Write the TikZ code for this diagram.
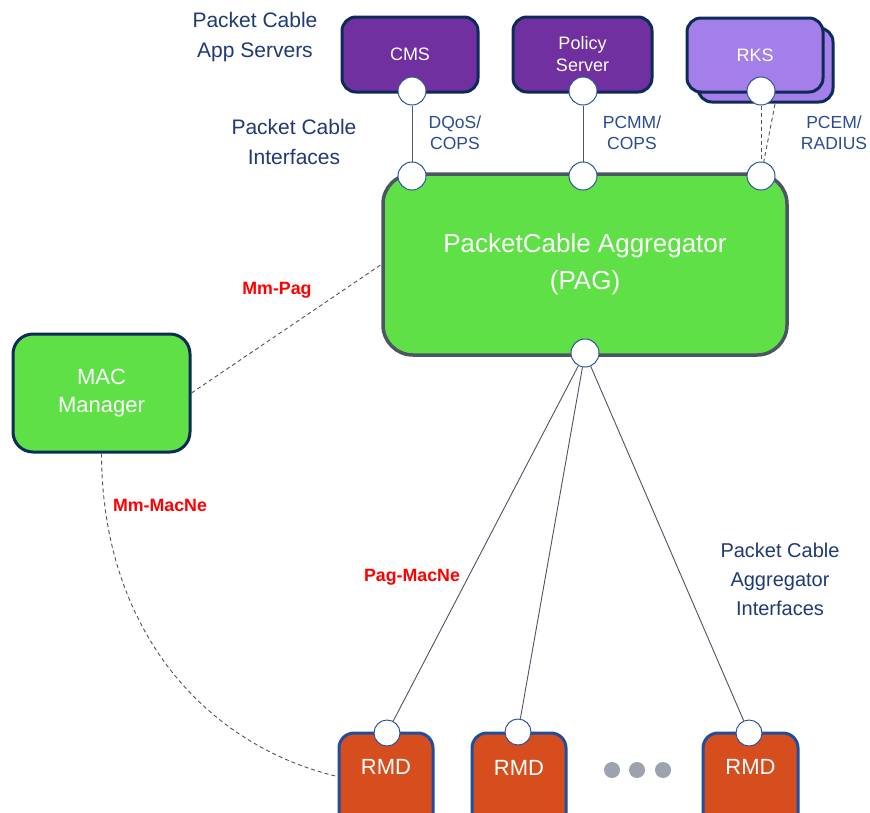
\documentclass[tikz,border=0pt]{standalone}
\usepackage{fontspec}
\setmainfont{Liberation Sans}
\definecolor{cmspurple}{HTML}{7030A0}
\definecolor{rkspurple}{HTML}{A47FE9}
\definecolor{navy}{HTML}{0E2B58}
\definecolor{paggreen}{HTML}{5FE046}
\definecolor{paggray}{HTML}{4B5563}
\definecolor{rmdorange}{HTML}{D64D1E}
\definecolor{rmdblue}{HTML}{1F4EA0}
\definecolor{portblue}{HTML}{2F5597}
\definecolor{lblblue}{HTML}{1F3A75}
\definecolor{ifblue}{HTML}{2B4C93}
\definecolor{dotgray}{HTML}{9CA3AF}
\definecolor{linegray}{HTML}{4B5563}
\begin{document}
\begin{tikzpicture}[x=1pt,y=-1pt,
  box/.style={draw, rounded corners=14pt, line width=3pt, inner sep=0pt, align=center, text=white},
  port/.style={circle, draw=portblue, fill=white, line width=1pt, minimum size=28pt, inner sep=0pt},
  rport/.style={port, minimum size=26pt},
  bluelbl/.style={text=lblblue, align=center, inner sep=0pt, font=\fontsize{21}{30}\selectfont},
  iflbl/.style={text=ifblue, align=center, inner sep=0pt, font=\fontsize{17.5}{21}\selectfont},
  redlbl/.style={text=red, inner sep=0pt, font=\bfseries\fontsize{17.8}{20}\selectfont},
  conn/.style={draw=linegray, line width=0.9pt},
  dconn/.style={draw=linegray, line width=0.9pt, dash pattern=on 4pt off 3pt},
  dotnode/.style={circle, fill=dotgray, minimum size=16pt, inner sep=0pt},
  whitetxt/.style={text=white, inner sep=0pt, align=center}
]
\clip (0,0) rectangle (870,812);
\fill[white] (0,0) rectangle (870,812);

% app servers
\node[box, fill=cmspurple, draw=navy, minimum width=136pt, minimum height=75pt,
      font=\fontsize{18}{22}\selectfont] (cms) at (410,54.5) {CMS};
\node[box, fill=cmspurple, draw=navy, minimum width=139pt, minimum height=75pt,
      font=\fontsize{18}{22}\selectfont] (pol) at (582.5,54.5) {Policy\\Server};
\node[box, fill=rkspurple, draw=navy, minimum width=135pt, minimum height=74pt] (rksback) at (765.5,65) {};
\node[box, fill=rkspurple, draw=navy, minimum width=136pt, minimum height=74pt,
      font=\fontsize{18}{22}\selectfont] (rks) at (755,55) {RKS};

% PAG
\node[box, fill=paggreen, draw=paggray, line width=3.5pt, rounded corners=30pt,
      minimum width=404pt, minimum height=181pt,
      font=\fontsize{26}{37}\selectfont] (pag) at (585,264.5) {PacketCable Aggregator\\(PAG)};

% MAC manager
\node[box, fill=paggreen, draw=navy, rounded corners=20pt, minimum width=177pt, minimum height=118pt,
      font=\fontsize{22}{28}\selectfont] (mac) at (101.5,393) {MAC\\Manager};

% RMDs
\node[box, fill=rmdorange, draw=rmdblue, rounded corners=15pt, minimum width=94pt, minimum height=107pt] (rmd1) at (386,786.5) {};
\node[box, fill=rmdorange, draw=rmdblue, rounded corners=15pt, minimum width=94pt, minimum height=107pt] (rmd2) at (519,786.5) {};
\node[box, fill=rmdorange, draw=rmdblue, rounded corners=15pt, minimum width=95pt, minimum height=107pt] (rmd3) at (750.5,786.5) {};
\node[whitetxt, font=\fontsize{22}{26}\selectfont] (rmd1t) at (386,767) {RMD};
\node[whitetxt, font=\fontsize{22}{26}\selectfont] (rmd2t) at (519,768) {RMD};
\node[whitetxt, font=\fontsize{22}{26}\selectfont] (rmd3t) at (750.5,767) {RMD};

% dots
\node[dotnode] (dot1) at (612,770) {};
\node[dotnode] (dot2) at (637,770) {};
\node[dotnode] (dot3) at (663,770) {};

% ports
\node[port] (cmsP) at (412,91) {};
\node[port] (polP) at (583,91) {};
\node[port] (rksP) at (761,91) {};
\node[port] (pagP1) at (412,176) {};
\node[port] (pagP2) at (583,176) {};
\node[port] (pagP3) at (761,176) {};
\node[port] (pagP4) at (585,353) {};
\node[rport] (rmdP1) at (387,733) {};
\node[rport] (rmdP2) at (518,732) {};
\node[rport] (rmdP3) at (749,733) {};
\coordinate (rksB) at (775,104);

% connectors
\draw[conn] (cmsP) -- (pagP1);
\draw[conn] (polP) -- (pagP2);
\draw[dconn] (rksP) -- (pagP3);
\draw[dconn] (rksB) -- (pagP3);
\draw[conn] (pagP4) -- (rmdP1);
\draw[conn] (pagP4) -- (rmdP2);
\draw[conn] (pagP4) -- (rmdP3);
\draw[dconn] (mac.east) -- (pag.west);
\draw[dconn] (mac.south) .. controls (102,630) and (205,745) .. ([yshift=10pt]rmd1.west);

% labels
\node[bluelbl] (appsrv) at (255,37) {Packet Cable\\App Servers};
\node[bluelbl] (pcif) at (294,142) {Packet Cable\\Interfaces};
\node[bluelbl, font=\fontsize{20}{29}\selectfont] (pagif) at (780,579) {Packet Cable\\Aggregator\\Interfaces};
\node[iflbl] (dqos) at (455,132.5) {DQoS/\\COPS};
\node[iflbl] (pcmm) at (632,132.5) {PCMM/\\COPS};
\node[iflbl] (pcem) at (834,132.5) {PCEM/\\RADIUS};
\node[redlbl] (mmpag) at (277,290) {Mm-Pag};
\node[redlbl] (mmmacne) at (160,505) {Mm-MacNe};
\node[redlbl] (pagmacne) at (412,577) {Pag-MacNe};
\end{tikzpicture}
\end{document}
